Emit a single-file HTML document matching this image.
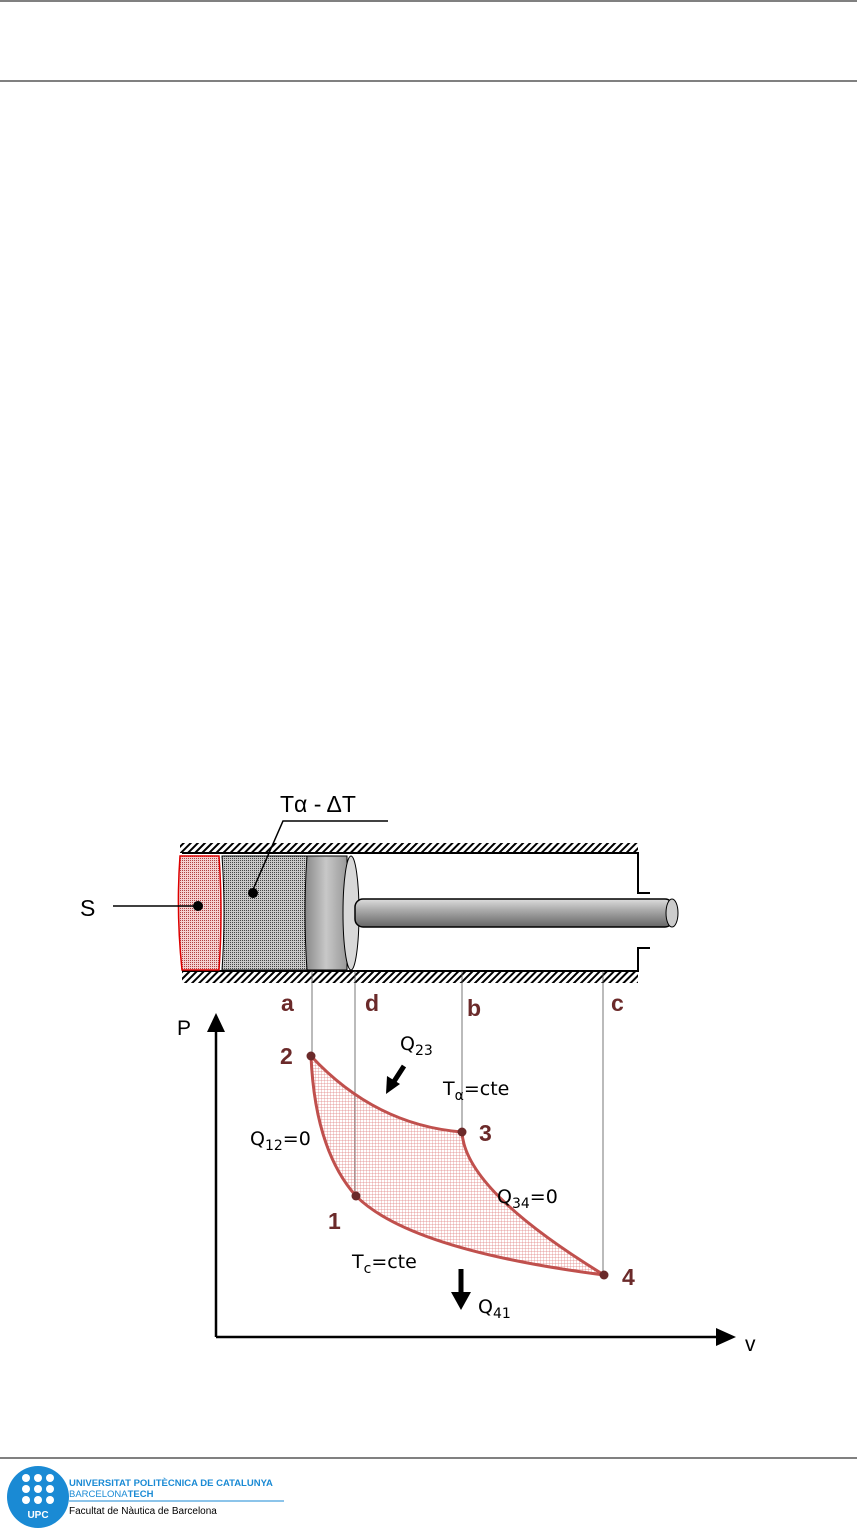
<!DOCTYPE html>
<html><head><meta charset="utf-8"><style>
body{margin:0;background:#fff;width:857px;height:1537px;overflow:hidden;position:relative;font-family:"Liberation Sans",sans-serif}
</style></head><body>
<svg width="857" height="1537" viewBox="0 0 857 1537" style="position:absolute;left:0;top:0">
<defs>
<pattern id="hatch" width="5" height="5" patternUnits="userSpaceOnUse" patternTransform="rotate(45)"><rect width="2" height="5" fill="#000"/></pattern>
<pattern id="grid" width="3" height="3" patternUnits="userSpaceOnUse"><path d="M0 0H3M0 0V3" stroke="#e08080" stroke-width="0.7"/></pattern>
<pattern id="dots" width="2" height="2" patternUnits="userSpaceOnUse"><rect width="2" height="2" fill="#c8c8c8"/><rect width="1" height="1" fill="#444"/></pattern>
<pattern id="rdots" width="2" height="2" patternUnits="userSpaceOnUse"><rect width="2" height="2" fill="#f4d0d0"/><rect width="1" height="1" fill="#b04040"/></pattern>
<linearGradient id="rod" x1="0" y1="0" x2="0" y2="1"><stop offset="0" stop-color="#ddd"/><stop offset="0.4" stop-color="#aaa"/><stop offset="1" stop-color="#666"/></linearGradient>
<linearGradient id="pis" x1="0" y1="0" x2="1" y2="0"><stop offset="0" stop-color="#888"/><stop offset="0.5" stop-color="#c8c8c8"/><stop offset="1" stop-color="#999"/></linearGradient>
</defs>
<line x1="0" y1="1" x2="857" y2="1" stroke="#000" stroke-width="1"/>
<line x1="0" y1="81" x2="857" y2="81" stroke="#000" stroke-width="1"/>
<line x1="0" y1="1458" x2="857" y2="1458" stroke="#000" stroke-width="1"/>
<rect x="180" y="843" width="458" height="10" fill="url(#hatch)"/>
<rect x="182" y="971" width="456" height="12" fill="url(#hatch)"/>
<path d="M182 853H638V893H650M650 948H638V971H182" fill="none" stroke="#000" stroke-width="2"/>
<path d="M180 856H219Q223 912 219 970H182Q176 912 180 856Z" fill="url(#rdots)" stroke="#d00" stroke-width="1.5"/>
<path d="M222 856H308Q304 912 308 970H222Q226 912 222 856Z" fill="url(#dots)" stroke="#000" stroke-width="1"/>
<path d="M307 856H347V970H307Q303 912 307 856Z" fill="url(#pis)" stroke="#000" stroke-width="1"/>
<ellipse cx="351" cy="913" rx="8" ry="57" fill="#d8d8d8" stroke="#000" stroke-width="1"/>
<rect x="355" y="899" width="318" height="28" rx="8" fill="url(#rod)" stroke="#000" stroke-width="1.5"/>
<ellipse cx="672" cy="913" rx="6" ry="14" fill="#ccc" stroke="#000" stroke-width="1"/>
<line x1="113" y1="906" x2="198" y2="906" stroke="#000" stroke-width="1.5"/>
<circle cx="198" cy="906" r="5" fill="#000"/>
<path d="M252 892L283 821H388" fill="none" stroke="#000" stroke-width="1.5"/>
<circle cx="253" cy="893" r="5" fill="#000"/>
<text x="280" y="812" font-size="23" fill="#000">Tα - ΔT</text>
<text x="80" y="916" font-size="23" fill="#000">S</text>
<g stroke="#555" stroke-width="0.8"><line x1="312" y1="971" x2="312" y2="1056"/><line x1="355" y1="971" x2="355" y2="1196"/><line x1="462" y1="971" x2="462" y2="1132"/><line x1="603" y1="971" x2="603" y2="1275"/></g>
<g font-size="23" font-weight="bold" fill="#6b2a2a"><text x="281" y="1011">a</text><text x="365" y="1011">d</text><text x="467" y="1016">b</text><text x="611" y="1011">c</text>
<text x="280" y="1064">2</text><text x="479" y="1141">3</text><text x="328" y="1229">1</text><text x="622" y="1285">4</text></g>
<path d="M216 1337V1030M216 1337H718" fill="none" stroke="#000" stroke-width="2.5"/>
<polygon points="216,1013 207,1032 225,1032" fill="#000"/>
<polygon points="736,1337 716,1328 716,1346" fill="#000"/>
<text x="177" y="1035" font-size="21">P</text>
<text x="745" y="1351" font-size="21">v</text>
<path d="M311 1056Q375 1125 462 1132Q465 1190 604 1275Q410 1250 356 1196Q315 1150 311 1056Z" fill="url(#grid)" stroke="#c0504d" stroke-width="3"/>
<g fill="#6b2a2a"><circle cx="311" cy="1056" r="4.5"/><circle cx="462" cy="1132" r="4.5"/><circle cx="356" cy="1196" r="4.5"/><circle cx="604" cy="1275" r="4.5"/></g>
<g font-family="'DejaVu Sans','Liberation Sans',sans-serif" font-size="19">
<text x="400" y="1050">Q<tspan font-size="14" dy="5">23</tspan></text>
<text x="443" y="1095">T<tspan font-size="14" dy="5">α</tspan><tspan dy="-5">=cte</tspan></text>
<text x="250" y="1145">Q<tspan font-size="14" dy="5">12</tspan><tspan dy="-5">=0</tspan></text>
<text x="497" y="1203">Q<tspan font-size="14" dy="5">34</tspan><tspan dy="-5">=0</tspan></text>
<text x="352" y="1268">T<tspan font-size="14" dy="5">c</tspan><tspan dy="-5">=cte</tspan></text>
<text x="478" y="1313">Q<tspan font-size="14" dy="5">41</tspan></text>
</g>
<line x1="404" y1="1066" x2="393" y2="1083" stroke="#000" stroke-width="5"/>
<polygon points="386,1094 387,1076 400,1084" fill="#000"/>
<line x1="461" y1="1269" x2="461" y2="1295" stroke="#000" stroke-width="5"/>
<polygon points="461,1310 451,1292 471,1292" fill="#000"/>
<circle cx="38" cy="1497" r="31" fill="#1a8ad4"/>
<g fill="#fff"><circle cx="26" cy="1478" r="4"/><circle cx="38" cy="1478" r="4"/><circle cx="50" cy="1478" r="4"/><circle cx="26" cy="1489" r="4"/><circle cx="38" cy="1489" r="4"/><circle cx="50" cy="1489" r="4"/><circle cx="26" cy="1500" r="4"/><circle cx="38" cy="1500" r="4"/><circle cx="50" cy="1500" r="4"/></g>
<text x="38" y="1518" font-size="10" font-weight="bold" fill="#fff" text-anchor="middle">UPC</text>
<text x="69" y="1486" font-size="9.5" font-weight="bold" fill="#1a8ad4">UNIVERSITAT POLITÈCNICA DE CATALUNYA</text>
<text x="69" y="1497" font-size="9.5" fill="#1a8ad4">BARCELONA<tspan font-weight="bold">TECH</tspan></text>
<line x1="69" y1="1501" x2="284" y2="1501" stroke="#1a8ad4" stroke-width="1"/>
<text x="69" y="1514" font-size="10" fill="#000">Facultat de Nàutica de Barcelona</text>
</svg>
</body></html>
